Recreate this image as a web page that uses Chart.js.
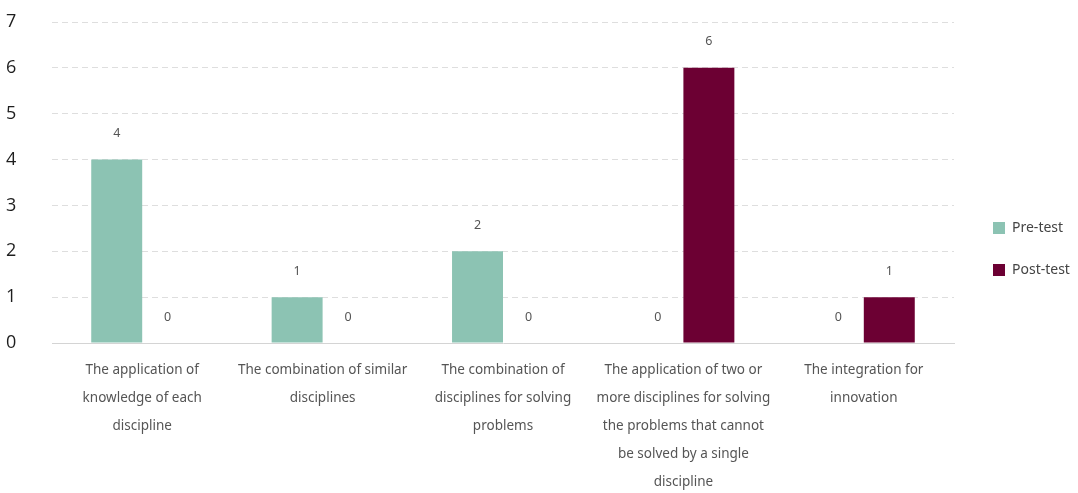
<!DOCTYPE html>
<html>
<head>
<meta charset="utf-8">
<script src="https://cdn.jsdelivr.net/npm/chart.js@4.4.1/dist/chart.umd.min.js"></script>
<style>
  html, body { margin: 0; padding: 0; background: #fff; }
  #wrap { width: 1078px; height: 493px; }
</style>
</head>
<body>
<div id="wrap"><canvas id="c"></canvas></div>
<script>
// Categories (each label split into display lines)
const categories = [
  ["The application of", "knowledge of each", "discipline"],
  ["The combination of similar", "disciplines"],
  ["The combination of", "disciplines for solving", "problems"],
  ["The application of two or", "more disciplines for solving", "the problems that cannot", "be solved by a single", "discipline"],
  ["The integration for", "innovation"]
];
const seriesNames = ["Pre-test", "Post-test"];
const preTest = [4, 1, 2, 0, 0];
const postTest = [0, 0, 0, 6, 1];
const yTicks = [0, 1, 2, 3, 4, 5, 6, 7];

const colors = ["#8cc3b3", "#6c0033"];

// Value labels above each bar
const valueLabels = {
  id: 'valueLabels',
  afterDatasetsDraw(chart) {
    const ctx = chart.ctx;
    ctx.save();
    ctx.font = '12.5px "Noto Sans"';
    ctx.fillStyle = '#555';
    ctx.textAlign = 'center';
    ctx.textBaseline = 'middle';
    chart.data.datasets.forEach((ds, i) => {
      chart.getDatasetMeta(i).data.forEach((bar, j) => {
        ctx.fillText(String(ds.data[j]), bar.x, bar.y - 26);
      });
    });
    ctx.restore();
  }
};

// Legend on the right, stacked vertically
const sideLegend = {
  id: 'sideLegend',
  afterDraw(chart) {
    const ctx = chart.ctx;
    ctx.save();
    ctx.font = '14px "Noto Sans"';
    ctx.textBaseline = 'middle';
    ctx.textAlign = 'left';
    chart.data.datasets.forEach((ds, i) => {
      const cy = 228 + i * 42;
      ctx.fillStyle = ds.backgroundColor;
      ctx.fillRect(993, cy - 6, 12, 12);
      ctx.fillStyle = '#444';
      ctx.fillText(ds.label, 1012, cy);
    });
    ctx.restore();
  }
};

new Chart(document.getElementById('c'), {
  type: 'bar',
  data: {
    labels: categories,
    datasets: [
      { label: seriesNames[0], data: preTest, backgroundColor: colors[0] },
      { label: seriesNames[1], data: postTest, backgroundColor: colors[1] }
    ]
  },
  options: {
    responsive: true,
    maintainAspectRatio: false,
    animation: false,
    layout: { padding: { top: 22, right: 124, left: 6, bottom: 0 } },
    plugins: {
      legend: { display: false },
      tooltip: { enabled: false }
    },
    datasets: {
      bar: { categoryPercentage: 0.565, barPercentage: 1.0 }
    },
    scales: {
      x: {
        afterFit(scale) { scale.height = 150; },
        grid: { display: false },
        border: { display: true, color: '#d4d4d4', width: 1 },
        ticks: {
          color: '#555',
          font: { family: '"Noto Sans"', size: 13.5, lineHeight: 2.07 },
          maxRotation: 0,
          autoSkip: false,
          padding: 5
        }
      },
      y: {
        min: 0,
        max: 7,
        afterFit(scale) { scale.width = 46; },
        afterBuildTicks(scale) { scale.ticks = yTicks.map(v => ({ value: v })); },
        border: { display: false, dash: [6, 4] },
        grid: {
          color: (c) => c.tick && c.tick.value === 0 ? 'rgba(0,0,0,0)' : '#dedede',
          lineWidth: 1,
          drawTicks: false
        },
        ticks: {
          color: '#1e1e1e',
          font: { family: '"Open Sans"', size: 18, weight: '500' },
          crossAlign: 'far',
          padding: 10
        }
      }
    }
  },
  plugins: [valueLabels, sideLegend]
});
</script>
</body>
</html>
